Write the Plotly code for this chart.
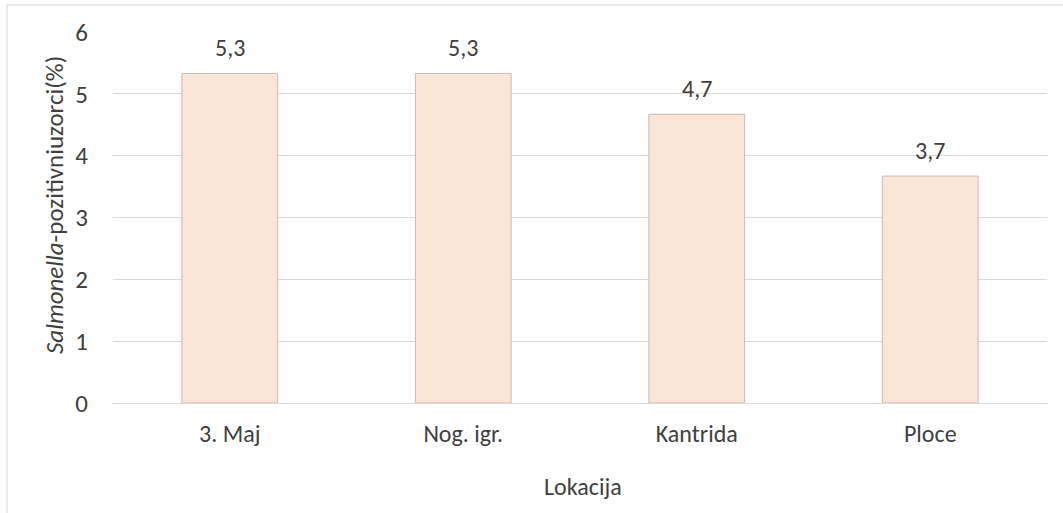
import plotly.graph_objects as go

categories = ["3. Maj", "Nog. igr.", "Kantrida", "Ploce"]
values = [5.33, 5.33, 4.67, 3.67]
labels = ["5,3", "5,3", "4,7", "3,7"]
y_ticks = [0, 1, 2, 3, 4, 5, 6]

W, H = 1063, 513
ml, mr, mt, mb = 113, 16, 32, 110
pw, ph = W - ml - mr, H - mt - mb

FONT = "Carlito, Lato, Open Sans, sans-serif"
TXT = "#404040"

fig = go.Figure()
fig.add_trace(go.Bar(
    x=categories, y=values,
    marker=dict(color="#FBE5D6", line=dict(color="#C9BBB1", width=1)),
    width=0.41, hoverinfo="x+y",
))

# data labels placed at the bar tops
for c, v, t in zip(categories, values, labels):
    fig.add_annotation(x=c, y=v, text=t, showarrow=False, xref="x", yref="y",
                       yanchor="bottom", yshift=9, font=dict(size=24, color=TXT))

fig.update_layout(
    width=W, height=H,
    margin=dict(l=ml, r=mr, t=mt, b=mb, autoexpand=False),
    paper_bgcolor="white", plot_bgcolor="white",
    font=dict(family=FONT, color=TXT, size=24),
    showlegend=False,
    xaxis=dict(
        showgrid=False, showline=False, ticks="",
        tickfont=dict(size=24, color=TXT),
        ticklabelstandoff=14,
    ),
    yaxis=dict(
        range=[0, 6], tickvals=y_ticks, ticktext=[str(t) for t in y_ticks],
        showgrid=True, gridcolor="#D9D9D9", gridwidth=1,
        zeroline=True, zerolinecolor="#D9D9D9", zerolinewidth=1,
        showline=False, ticks="",
        ticklabelstandoff=24,
        tickfont=dict(size=25, color=TXT),
    ),
)

# axis titles
fig.add_annotation(xref="paper", yref="paper", x=(583 - ml) / pw, y=(H - mb - 486) / ph,
                   text="Lokacija", showarrow=False, xanchor="center", yanchor="middle",
                   font=dict(size=24, color=TXT))
fig.add_annotation(xref="paper", yref="paper", x=(54 - ml) / pw, y=(H - mb - 205) / ph,
                   text="<i>Salmonella</i>-pozitivniuzorci(%)", showarrow=False, textangle=-90,
                   xanchor="center", yanchor="middle", font=dict(size=25, color=TXT))

# outer frame lines (top and left)
x0 = (7 - ml) / pw
y0 = (H - mb - 5) / ph
fig.add_shape(type="line", xref="paper", yref="paper", x0=x0, x1=(W - ml) / pw, y0=y0, y1=y0,
              line=dict(color="#D9D9D9", width=1))
fig.add_shape(type="line", xref="paper", yref="paper", x0=x0, x1=x0, y0=y0, y1=-(mb) / ph,
              line=dict(color="#D9D9D9", width=1))

fig.write_html("out.html", config={"displayModeBar": False},
               post_script="document.body.style.margin='0px';")
